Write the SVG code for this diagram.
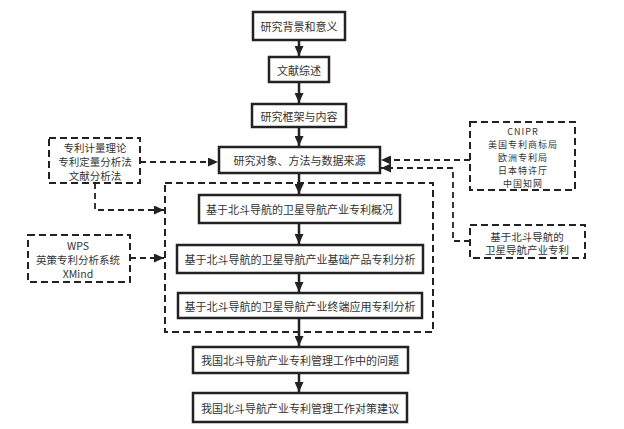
<svg xmlns="http://www.w3.org/2000/svg" width="624" height="429" viewBox="0 0 624 429">
<style>
  .box { fill: #fff; stroke: #222; stroke-width: 2.5; }
  .dbox { fill: none; stroke: #222; stroke-width: 2; stroke-dasharray: 7 4; }
  .t { font-family: "Noto Sans CJK SC", "Liberation Serif", serif; font-size: 11px; fill: #333; text-anchor: middle; dominant-baseline: central; }
  .s { font-family: "Noto Sans CJK SC", "Liberation Serif", serif; font-size: 10.5px; fill: #333; text-anchor: middle; dominant-baseline: central; }
  .r { font-family: "Noto Sans CJK SC", "Liberation Serif", serif; font-size: 9px; letter-spacing: 1px; fill: #333; text-anchor: middle; dominant-baseline: central; }
  .c { fill: none; stroke: #222; stroke-width: 2.5; marker-end: url(#ah); }
  .dc { fill: none; stroke: #222; stroke-width: 1.8; stroke-dasharray: 6 4; marker-end: url(#ah); }
</style>
<defs>
  <marker id="ah" markerUnits="userSpaceOnUse" markerWidth="10" markerHeight="9" refX="10" refY="4.5" orient="auto">
    <path d="M0,0 L10,4.5 L0,9 z" fill="#222"/>
  </marker>
</defs>
<rect width="624" height="429" fill="#fff"/>
<g id="connectors">
  <line class="c" x1="299" y1="41" x2="299" y2="56"/>
  <line class="c" x1="299" y1="83" x2="299" y2="103"/>
  <line class="c" x1="299" y1="128" x2="299" y2="146"/>
  <line class="c" x1="299" y1="174" x2="299" y2="194"/>
  <line class="c" x1="299" y1="224" x2="299" y2="244"/>
  <line class="c" x1="299" y1="274" x2="299" y2="292"/>
  <line class="c" x1="299" y1="319" x2="299" y2="346"/>
  <line class="c" x1="299" y1="374" x2="299" y2="392"/>
  <line class="dc" x1="140" y1="162" x2="218" y2="162"/>
  <polyline class="dc" points="95,183 95,210 164,210"/>
  <line class="dc" x1="130" y1="258" x2="164" y2="258"/>
  <line class="dc" x1="470" y1="160" x2="381" y2="160"/>
  <polyline class="dc" points="470,241 453,241 453,168 381,168"/>
</g>
<g id="frame"><rect class="dbox" x="165" y="183" width="268" height="149"/></g>
<g id="n1"><rect class="box" x="253" y="12" width="92" height="28" stroke-width="3.2"/><text class="t" x="299" y="26">研究背景和意义</text></g>
<g id="n2"><rect class="box" x="269" y="57" width="60" height="25"/><text class="t" x="299" y="69.5">文献综述</text></g>
<g id="n3"><rect class="box" x="252" y="104" width="94" height="23"/><text class="t" x="299" y="115.5">研究框架与内容</text></g>
<g id="n4"><rect class="box" x="219" y="147" width="161" height="26"/><text class="t" x="299.5" y="160">研究对象、方法与数据来源</text></g>
<g id="n5"><rect class="box" x="199" y="195" width="201" height="28"/><text class="t" x="299.5" y="209">基于北斗导航的卫星导航产业专利概况</text></g>
<g id="n6"><rect class="box" x="177" y="245" width="246" height="28"/><text class="t" x="300" y="259">基于北斗导航的卫星导航产业基础产品专利分析</text></g>
<g id="n7"><rect class="box" x="178" y="293" width="244" height="25"/><text class="t" x="300" y="305.5">基于北斗导航的卫星导航产业终端应用专利分析</text></g>
<g id="n8"><rect class="box" x="193" y="347" width="215" height="26"/><text class="t" x="300" y="360">我国北斗导航产业专利管理工作中的问题</text></g>
<g id="n9"><rect class="box" x="193" y="393" width="214" height="29"/><text class="t" x="300" y="407.5">我国北斗导航产业专利管理工作对策建议</text></g>
<g id="l1"><rect class="dbox" x="49" y="138" width="91" height="45"/>
  <text class="s" x="95" y="147">专利计量理论</text>
  <text class="s" x="95" y="161">专利定量分析法</text>
  <text class="s" x="95" y="175">文献分析法</text></g>
<g id="l2"><rect class="dbox" x="28" y="235" width="102" height="47"/>
  <text class="s" x="78" y="245">WPS</text>
  <text class="s" x="78" y="259">英策专利分析系统</text>
  <text class="s" x="78" y="273">XMind</text></g>
<g id="r1"><rect class="dbox" x="470" y="122" width="105" height="68"/>
  <text class="r" x="523" y="131">CNIPR</text>
  <text class="r" x="523" y="144">美国专利商标局</text>
  <text class="r" x="523" y="157">欧洲专利局</text>
  <text class="r" x="523" y="170">日本特许厅</text>
  <text class="r" x="523" y="183">中国知网</text></g>
<g id="r2"><rect class="dbox" x="470" y="225" width="115" height="33"/>
  <text class="s" x="527" y="236">基于北斗导航的</text>
  <text class="s" x="527" y="249.5">卫星导航产业专利</text></g>
</svg>
